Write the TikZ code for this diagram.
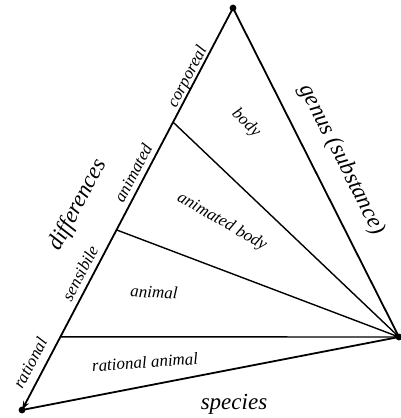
\documentclass[tikz,border=0pt]{standalone}
\usepackage{fontspec}
\setmainfont{Liberation Serif}[ItalicFont={Liberation Serif Italic}]
\usepackage{tikz}
\usetikzlibrary{arrows.meta,calc}

\tikzset{
  dot/.style={circle,fill,inner sep=2.4pt},
  small/.style={font=\itshape\fontsize{17}{19}\selectfont,inner sep=0pt},
  big/.style={font=\itshape\fontsize{23}{25}\selectfont,inner sep=0pt}
}

\begin{document}
\begin{tikzpicture}[x=1pt,y=-1pt,line width=1.8pt]
        \useasboundingbox (0,0) rectangle (400,418);

        \coordinate (top) at (233,8);
        \coordinate (left) at (22,410);
        \coordinate (right) at (399,337);

        \coordinate (p1) at ($(left)!0.716!(top)$);
        \coordinate (p2) at ($(left)!0.448!(top)$);
        \coordinate (p3) at ($(left)!0.182!(top)$);

        \node at (top)[dot]{};
        \node at (left)[dot]{};
        \node at (right)[dot]{};

        \draw[-{Stealth[length=9pt,width=6pt]}] (top) -- (left);
        \draw (top) -- (right) (left) -- (right);
        \draw[line width=1.4pt] (p1) -- (right) (p2) -- (right) (p3) -- (right);

        % differences on the left side
        \node[small,rotate=62.3] (corp) at (188,77) {corporeal};
        \node[small,rotate=62.3] (anim) at (133,173) {animated};
        \node[small,rotate=62.3] (sens) at (80,273) {sensibile};
        \node[small,rotate=62.3] (rat) at (30,363) {rational};
        \node[big,rotate=62.3] (diff) at (78,205) {differences};
        \node[big,rotate=-63.2] (genus) at (342,160) {genus (substance)};
        \node[big] (spec) at (234,404) {species};

        % regions
        \node[small,rotate=-44] (body) at (246,123) {body};
        \node[small,rotate=-30] (abody) at (222,222) {animated body};
        \node[small,rotate=-3] (animal) at (154,292) {animal};
        \node[small,rotate=4] (ranimal) at (145,362) {rational animal};
\end{tikzpicture}
\end{document}
